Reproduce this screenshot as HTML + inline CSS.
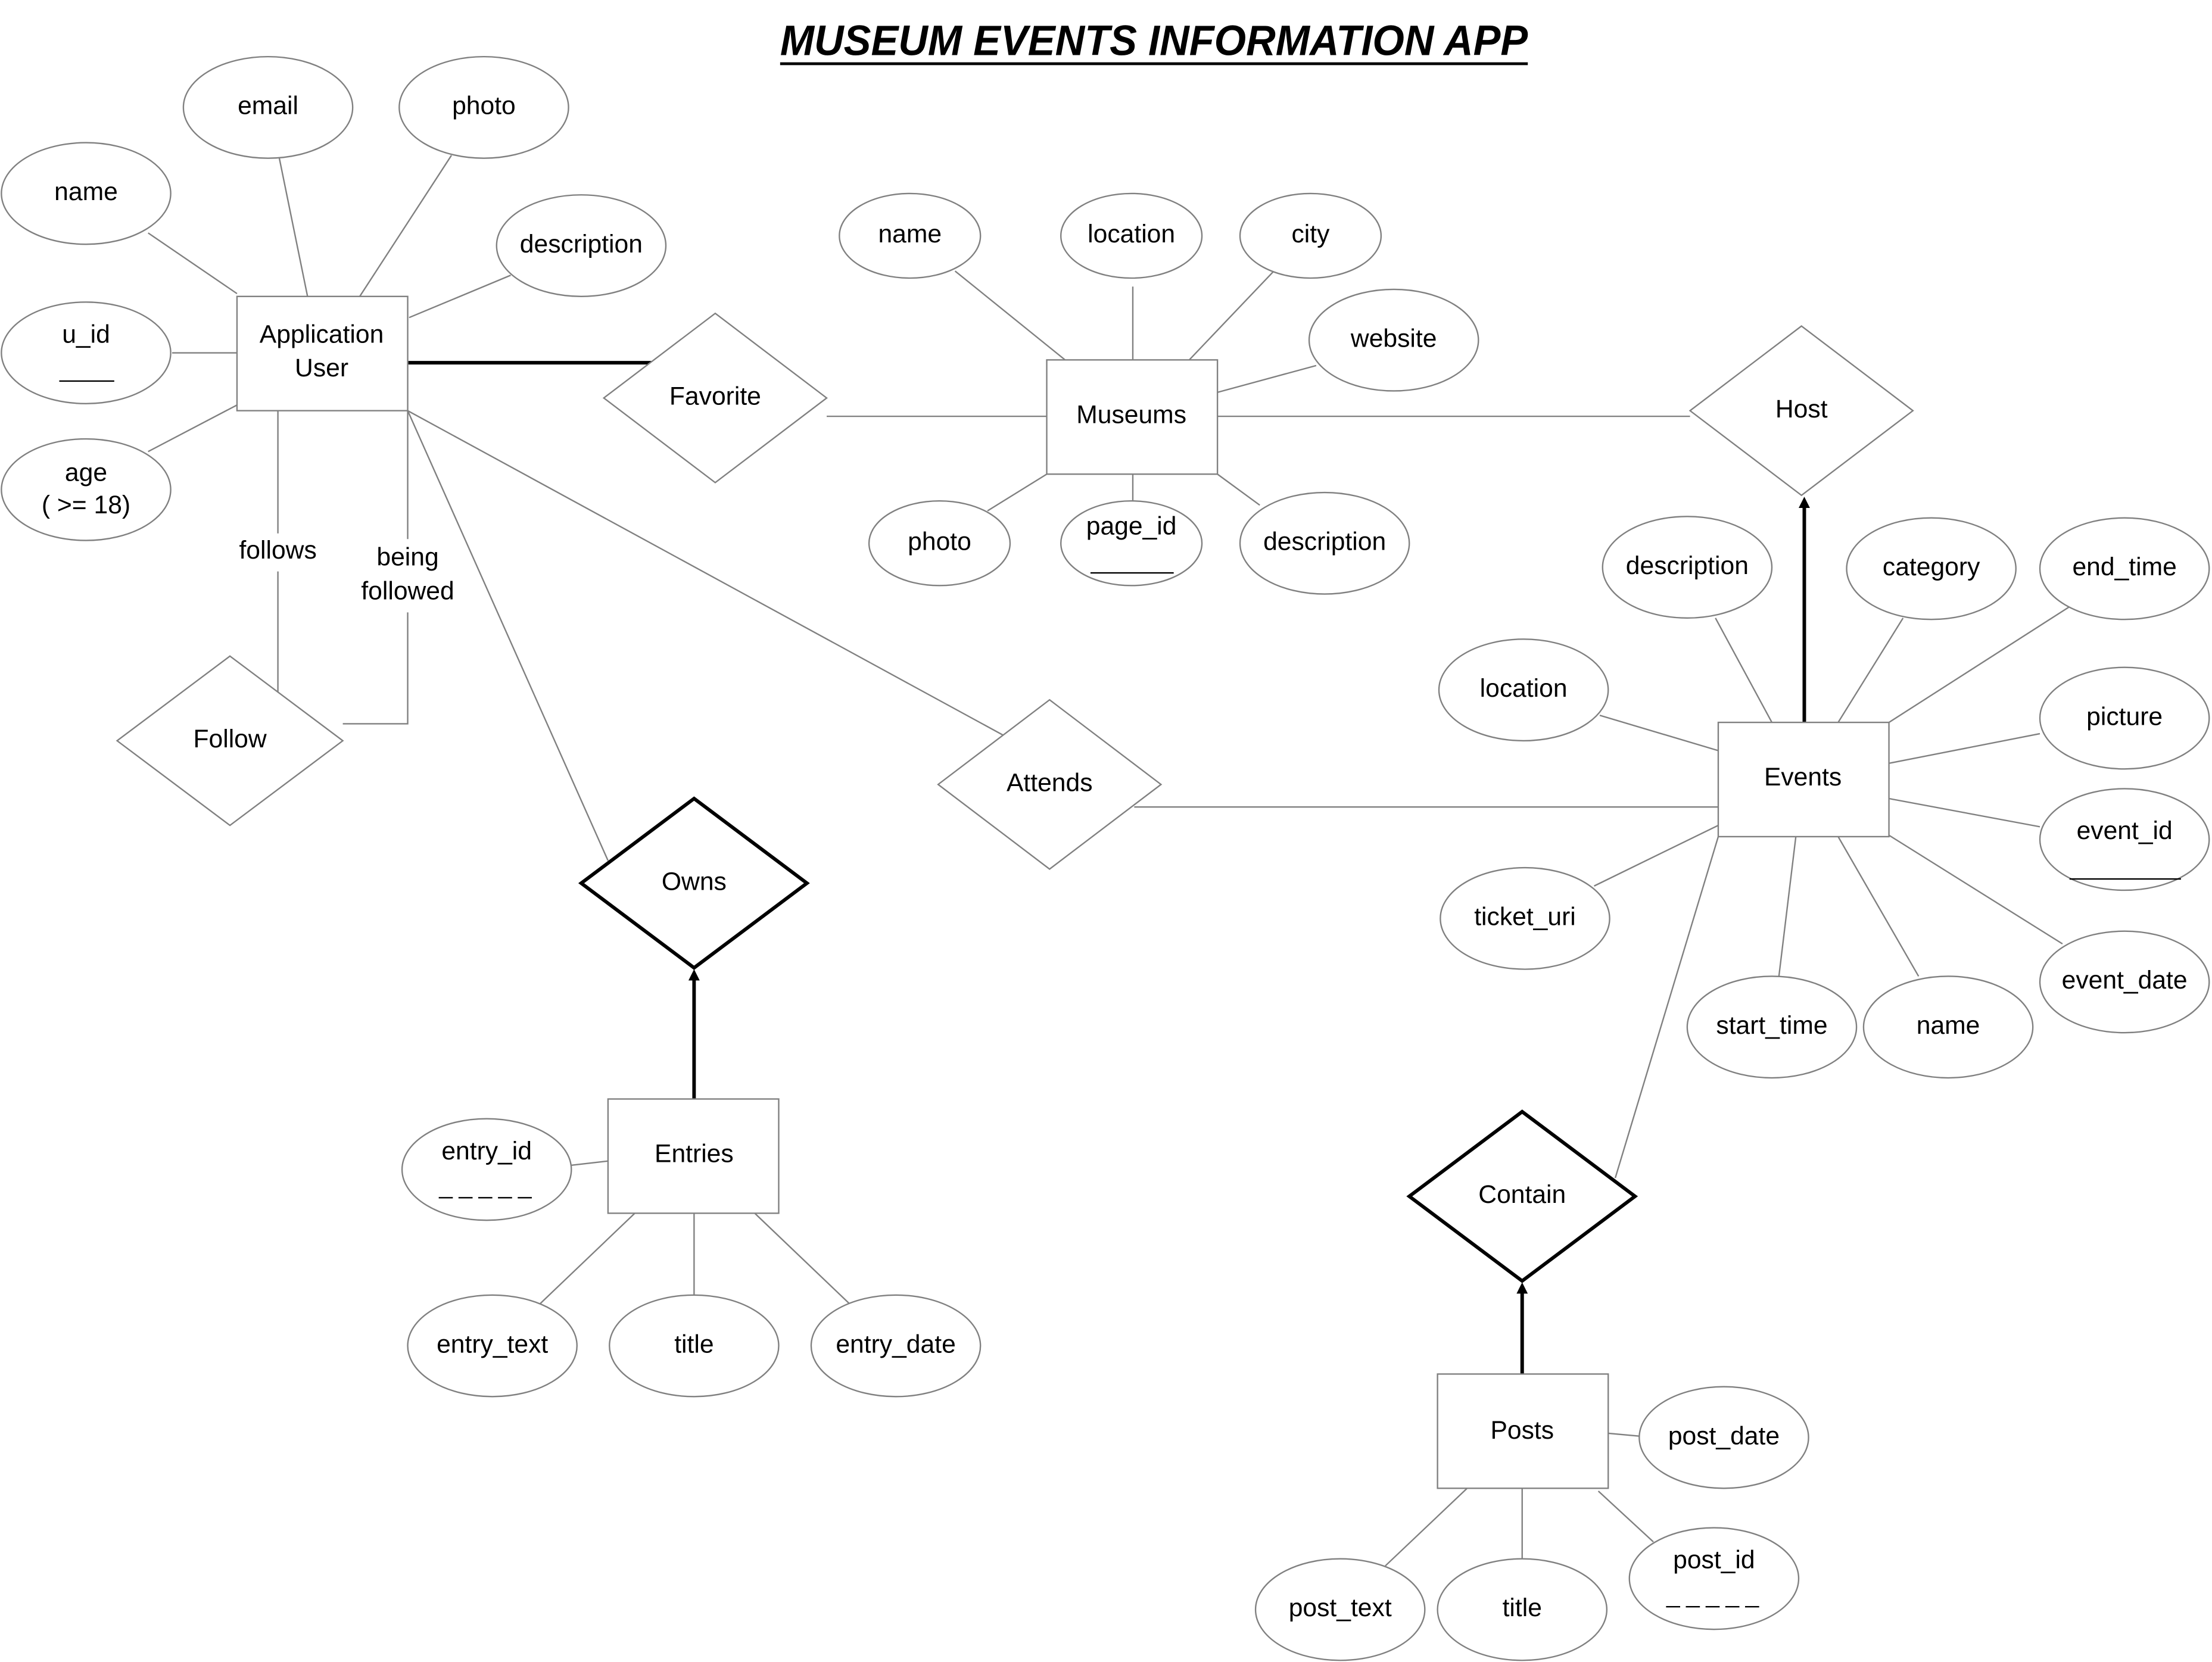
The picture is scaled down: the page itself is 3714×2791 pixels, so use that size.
<!DOCTYPE html>
<html><head><meta charset="utf-8"><style>
html,body{margin:0;padding:0;background:#fff;}
svg{display:block;}
text{font-family:"Liberation Sans",sans-serif;font-size:18px;fill:#000;text-anchor:middle;dominant-baseline:middle;}
.e{fill:#fff;stroke:#808080;stroke-width:1;}
.l{stroke:#808080;stroke-width:1;fill:none;}
.t{stroke:#000;stroke-width:2.5;fill:none;}
.tk{fill:#fff;stroke:#000;stroke-width:2.5;}
</style></head><body>
<svg width="3714" height="2791" viewBox="0 0 1568 1178" xmlns="http://www.w3.org/2000/svg">
<defs><marker id="a" markerWidth="8" markerHeight="8" refX="4" refY="4" orient="auto" markerUnits="userSpaceOnUse"><path d="M0,0 L8,4 L0,8 z" fill="#000"/></marker></defs>
<text x="818" y="31" textLength="530" lengthAdjust="spacingAndGlyphs" style="font-size:30px;font-weight:bold;font-style:italic">MUSEUM EVENTS INFORMATION APP</text>
<line x1="553" y1="45" x2="1083" y2="45" stroke="#000" stroke-width="2"/>

<g class="l">
<line x1="105" y1="165" x2="168" y2="208"/><line x1="198" y1="112" x2="218" y2="210"/>
<line x1="320" y1="110" x2="255" y2="210"/><line x1="362" y1="195" x2="290" y2="225"/>
<line x1="122" y1="250" x2="168" y2="250"/><line x1="105" y1="320" x2="168" y2="287"/>
<line x1="197" y1="291" x2="197" y2="378"/><line x1="197" y1="405" x2="197" y2="492"/>
<line x1="289" y1="291" x2="289" y2="382"/><polyline points="289,434 289,513 243,513"/>
<line x1="586" y1="295" x2="742" y2="295"/>
<line x1="677" y1="192" x2="755" y2="255"/><line x1="803" y1="203" x2="803" y2="255"/>
<line x1="903" y1="192" x2="843" y2="255"/><line x1="933" y1="259" x2="863" y2="278"/>
<line x1="700" y1="362" x2="742" y2="336"/><line x1="803" y1="336" x2="803" y2="355"/>
<line x1="893" y1="358" x2="863" y2="336"/>
<line x1="863" y1="295" x2="1198" y2="295"/>
<line x1="1216" y1="438" x2="1256" y2="512"/><line x1="1349" y1="438" x2="1303" y2="512"/>
<line x1="1467" y1="430" x2="1339" y2="512"/><line x1="1134" y1="507" x2="1218" y2="532"/>
<line x1="1446" y1="520" x2="1339" y2="541"/><line x1="1446" y1="586" x2="1339" y2="566"/>
<line x1="1462" y1="669" x2="1339" y2="592"/><line x1="1130" y1="628" x2="1218" y2="585"/>
<line x1="1261" y1="692" x2="1273" y2="593"/><line x1="1360" y1="692" x2="1303" y2="593"/>
<line x1="289" y1="291" x2="711" y2="521"/><line x1="804" y1="572" x2="1218" y2="572"/>
<line x1="289" y1="291" x2="431" y2="610"/>
<line x1="405" y1="826" x2="431" y2="823"/><line x1="383" y1="924" x2="450" y2="860"/>
<line x1="492" y1="860" x2="492" y2="918"/><line x1="602" y1="924" x2="535" y2="860"/>
<line x1="1218" y1="593" x2="1145" y2="835"/>
<line x1="1162" y1="1018" x2="1140" y2="1016"/><line x1="1172" y1="1093" x2="1133" y2="1057"/>
<line x1="982" y1="1110" x2="1040" y2="1055"/><line x1="1079" y1="1055" x2="1079" y2="1105"/>
</g>
<line class="t" x1="289" y1="257" x2="462" y2="257"/>
<line class="t" x1="1279" y1="512" x2="1279" y2="356" marker-end="url(#a)"/>
<line class="t" x1="492" y1="779" x2="492" y2="691" marker-end="url(#a)"/>
<line class="t" x1="1079" y1="974" x2="1079" y2="913" marker-end="url(#a)"/>

<text x="197" y="391">follows</text>
<text x="289" y="396">being</text><text x="289" y="420">followed</text>

<rect class="e" x="168" y="210" width="121" height="81"/><text x="228" y="238">Application</text><text x="228" y="262">User</text>
<rect class="e" x="742" y="255" width="121" height="81"/><text x="802" y="295">Museums</text>
<rect class="e" x="1218" y="512" width="121" height="81"/><text x="1278" y="552">Events</text>
<rect class="e" x="431" y="779" width="121" height="81"/><text x="492" y="819">Entries</text>
<rect class="e" x="1019" y="974" width="121" height="81"/><text x="1079" y="1015">Posts</text>

<polygon class="e" points="163,465 243,525 163,585 83,525"/><text x="163" y="525">Follow</text>
<polygon class="e" points="507,222 586,282 507,342 428,282"/><text x="507" y="282">Favorite</text>
<polygon class="e" points="1277,231 1356,291 1277,351 1198,291"/><text x="1277" y="291">Host</text>
<polygon class="e" points="744,496 823,556 744,616 665,556"/><text x="744" y="556">Attends</text>
<polygon class="tk" points="492,566 572,626 492,686 412,626"/><text x="492" y="626">Owns</text>
<polygon class="tk" points="1079,788 1159,848 1079,908 999,848"/><text x="1079" y="848">Contain</text>

<g>
<ellipse class="e" cx="190" cy="76" rx="60" ry="36"/><text x="190" y="76">email</text>
<ellipse class="e" cx="343" cy="76" rx="60" ry="36"/><text x="343" y="76">photo</text>
<ellipse class="e" cx="61" cy="137" rx="60" ry="36"/><text x="61" y="137">name</text>
<ellipse class="e" cx="412" cy="174" rx="60" ry="36"/><text x="412" y="174">description</text>
<ellipse class="e" cx="61" cy="250" rx="60" ry="36"/><text x="61" y="238">u_id</text><line x1="42" y1="270" x2="81" y2="270" stroke="#000"/>
<ellipse class="e" cx="61" cy="347" rx="60" ry="36"/><text x="61" y="336">age</text><text x="61" y="359">( &gt;= 18)</text>
<ellipse class="e" cx="645" cy="167" rx="50" ry="30"/><text x="645" y="167">name</text>
<ellipse class="e" cx="802" cy="167" rx="50" ry="30"/><text x="802" y="167">location</text>
<ellipse class="e" cx="929" cy="167" rx="50" ry="30"/><text x="929" y="167">city</text>
<ellipse class="e" cx="988" cy="241" rx="60" ry="36"/><text x="988" y="241">website</text>
<ellipse class="e" cx="666" cy="385" rx="50" ry="30"/><text x="666" y="385">photo</text>
<ellipse class="e" cx="802" cy="385" rx="50" ry="30"/><text x="802" y="374">page_id</text><line x1="773" y1="406" x2="832" y2="406" stroke="#000"/>
<ellipse class="e" cx="939" cy="385" rx="60" ry="36"/><text x="939" y="385">description</text>
<ellipse class="e" cx="1196" cy="402" rx="60" ry="36"/><text x="1196" y="402">description</text>
<ellipse class="e" cx="1369" cy="403" rx="60" ry="36"/><text x="1369" y="403">category</text>
<ellipse class="e" cx="1506" cy="403" rx="60" ry="36"/><text x="1506" y="403">end_time</text>
<ellipse class="e" cx="1080" cy="489" rx="60" ry="36"/><text x="1080" y="489">location</text>
<ellipse class="e" cx="1506" cy="509" rx="60" ry="36"/><text x="1506" y="509">picture</text>
<ellipse class="e" cx="1506" cy="595" rx="60" ry="36"/><text x="1506" y="590">event_id</text><line x1="1467" y1="623" x2="1546" y2="623" stroke="#000"/>
<ellipse class="e" cx="1506" cy="696" rx="60" ry="36"/><text x="1506" y="696">event_date</text>
<ellipse class="e" cx="1081" cy="651" rx="60" ry="36"/><text x="1081" y="651">ticket_uri</text>
<ellipse class="e" cx="1256" cy="728" rx="60" ry="36"/><text x="1256" y="728">start_time</text>
<ellipse class="e" cx="1381" cy="728" rx="60" ry="36"/><text x="1381" y="728">name</text>
<ellipse class="e" cx="345" cy="829" rx="60" ry="36"/><text x="345" y="817">entry_id</text><line x1="311" y1="849" x2="380" y2="849" stroke="#000" stroke-dasharray="10,4"/>
<ellipse class="e" cx="349" cy="954" rx="60" ry="36"/><text x="349" y="954">entry_text</text>
<ellipse class="e" cx="492" cy="954" rx="60" ry="36"/><text x="492" y="954">title</text>
<ellipse class="e" cx="635" cy="954" rx="60" ry="36"/><text x="635" y="954">entry_date</text>
<ellipse class="e" cx="1222" cy="1019" rx="60" ry="36"/><text x="1222" y="1019">post_date</text>
<ellipse class="e" cx="1215" cy="1119" rx="60" ry="36"/><text x="1215" y="1107">post_id</text><line x1="1181" y1="1139" x2="1250" y2="1139" stroke="#000" stroke-dasharray="10,4"/>
<ellipse class="e" cx="950" cy="1141" rx="60" ry="36"/><text x="950" y="1141">post_text</text>
<ellipse class="e" cx="1079" cy="1141" rx="60" ry="36"/><text x="1079" y="1141">title</text>
</g>
</svg>
</body></html>
